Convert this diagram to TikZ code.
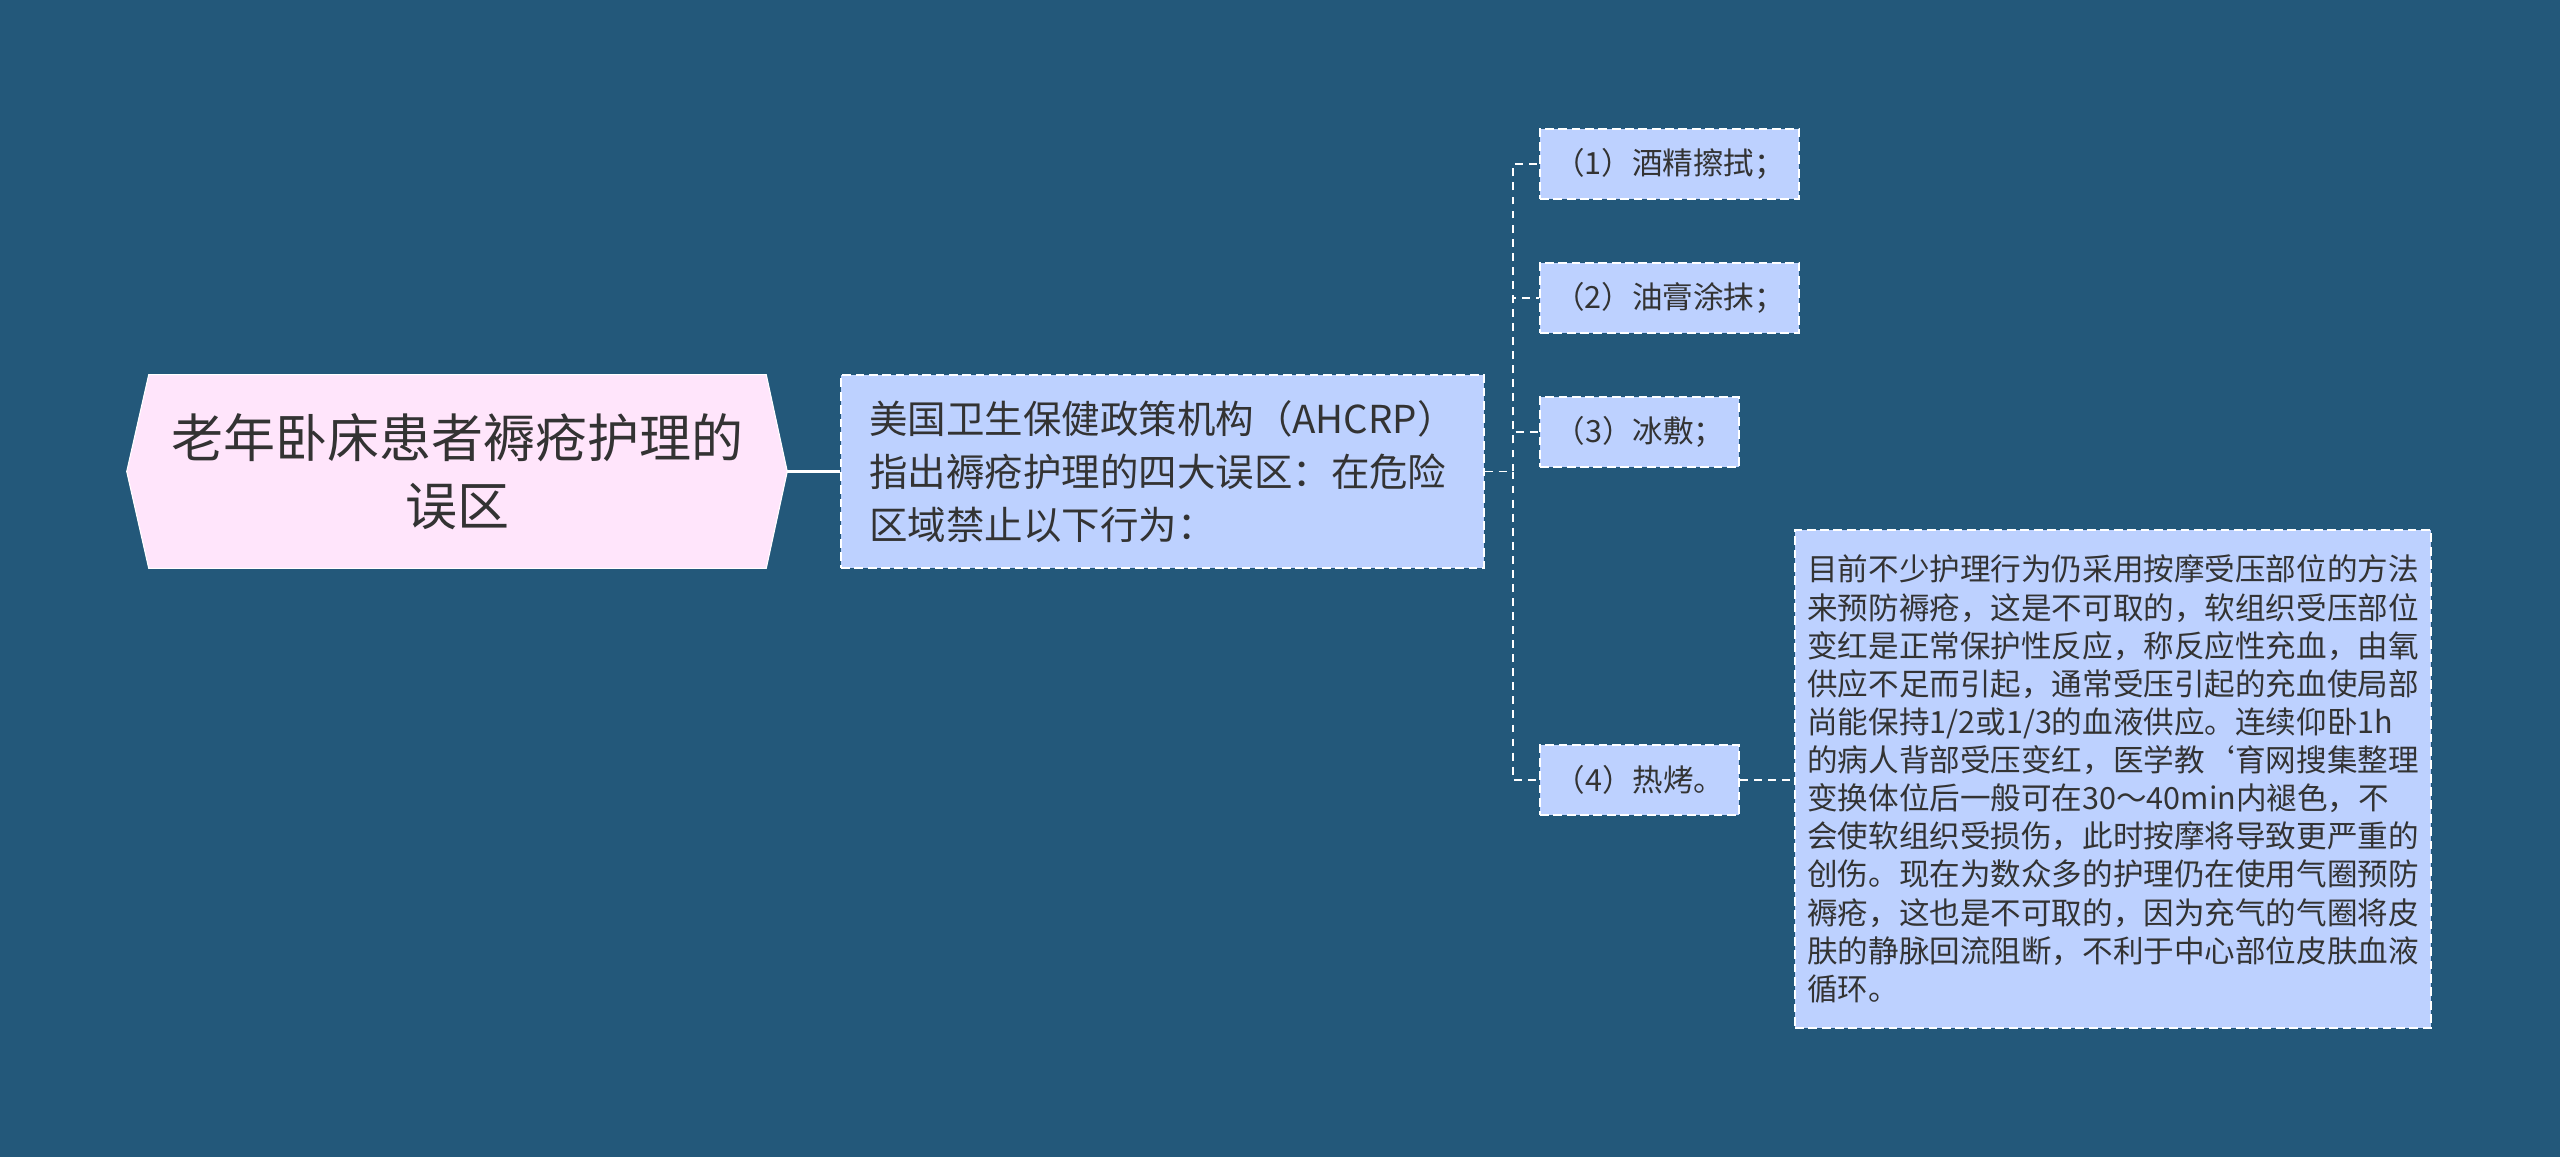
\documentclass[tikz,border=0pt]{standalone}
\usepackage{fontspec}
\setmainfont{Noto Sans CJK SC}
\usetikzlibrary{calc,backgrounds}

\definecolor{bgblue}{RGB}{35,88,122}
\definecolor{rootpink}{RGB}{255,229,251}
\definecolor{boxblue}{RGB}{189,209,255}
\definecolor{inkgray}{RGB}{51,51,51}

\begin{document}
\begin{tikzpicture}[x=0.02cm,y=-0.02cm,
    rootbox/.style={minimum width=12.34cm, minimum height=3.86cm, inner sep=0pt,
      align=center, text=inkgray, font=\fontsize{29.6pt}{38.7pt}\selectfont},
    dashbox/.style={draw=white, fill=boxblue, line width=1.1pt,
      dash pattern=on 5pt off 2.6pt, inner sep=0pt, text=inkgray},
    midbox/.style={dashbox, minimum width=12.86cm, minimum height=3.86cm,
      align=left, font=\fontsize{21.9pt}{30.2pt}\selectfont},
    itembox/.style={dashbox, minimum height=1.4cm,
      font=\fontsize{17.4pt}{19.9pt}\selectfont},
    detailbox/.style={dashbox, minimum width=12.72cm, minimum height=9.96cm,
      align=left, font=\fontsize{17.4pt}{21.7pt}\selectfont},
    link/.style={draw=white, line width=1.1pt, dash pattern=on 4.5pt off 3.5pt}]

  \begin{scope}[on background layer]
    \fill[bgblue] (0,0) rectangle (2560,1157);
  \end{scope}
  \useasboundingbox (0,0) rectangle (2560,1157);

  % root
  \node[rootbox] (root) at (457.5,471.5) {老年卧床患者褥疮护理的\\误区};
  \begin{scope}[on background layer]
    \filldraw[fill=rootpink, draw=white, line width=0.6pt]
      (root.north west) -- (root.north east) -- ($(root.east)+(21,0)$)
      -- (root.south east) -- (root.south west) -- ($(root.west)+(-22,0)$) -- cycle;
  \end{scope}
  \coordinate (roottip) at ($(root.east)+(21,0)$);

  \node[midbox] (mid) at (1162.5,471.5)
    {美国卫生保健政策机构（AHCRP）\\指出褥疮护理的四大误区：在危险\\区域禁止以下行为：};

  % four errors
  \node[itembox, minimum width=5.18cm] (item1) at (1669.5,164) {（1）酒精擦拭；};
  \node[itembox, minimum width=5.18cm] (item2) at (1669.5,298) {（2）油膏涂抹；};
  \node[itembox, minimum width=3.98cm] (item3) at (1639.5,432) {（3）冰敷；};
  \node[itembox, minimum width=3.98cm] (item4) at (1639.5,780) {（4）热烤。};

  \node[detailbox] (detail) at (2113,779)
    {目前不少护理行为仍采用按摩受压部位的方法\\
     来预防褥疮，这是不可取的，软组织受压部位\\
     变红是正常保护性反应，称反应性充血，由氧\\
     供应不足而引起，通常受压引起的充血使局部\\
     尚能保持1/2或1/3的血液供应。连续仰卧1h\\
     的病人背部受压变红，医学教\symbol{"60}育网搜集整理\\
     变换体位后一般可在30～40min内褪色，不\\
     会使软组织受损伤，此时按摩将导致更严重的\\
     创伤。现在为数众多的护理仍在使用气圈预防\\
     褥疮，这也是不可取的，因为充气的气圈将皮\\
     肤的静脉回流阻断，不利于中心部位皮肤血液\\
     循环。};

  % connectors
  \draw[white, line width=1.7pt] (roottip) -- (mid.west);
  \coordinate (spine) at (1513,471.5);
  \draw[link] (mid.east) -- (spine) |- (item1.west);
  \draw[link] (mid.east) -- (spine) |- (item2.west);
  \draw[link] (mid.east) -- (spine) |- (item3.west);
  \draw[link] (mid.east) -- (spine) |- (item4.west);
  \draw[link] (item4.east) -- (detail.west |- item4.east);
\end{tikzpicture}
\end{document}
